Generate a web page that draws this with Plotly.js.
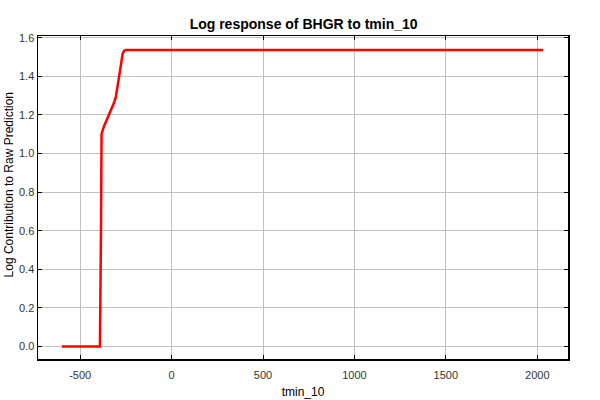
<!DOCTYPE html>
<html>
<head>
<meta charset="utf-8">
<script src="https://cdn.plot.ly/plotly-3.0.1.min.js"></script>
<style>html,body{margin:0;padding:0;background:#fff;}#chart{width:600px;height:400px;}</style>
</head>
<body>
<div id="chart"></div>
<script>
const tmin10 = [-600, -500, -392, -386, -383, -370, -356, -342, -328, -316, -305, -298, -292, -283, -275, -268, -260, -250, 0, 500, 1000, 1500, 2031];
const logContribution = [0, 0, 0, 0.6, 1.10, 1.14, 1.171, 1.20, 1.231, 1.26, 1.292, 1.33, 1.361, 1.413, 1.47, 1.516, 1.532, 1.537, 1.537, 1.537, 1.537, 1.537, 1.537];
const xTicks = [-500, 0, 500, 1000, 1500, 2000];
const yTicks = [0, 0.2, 0.4, 0.6, 0.8, 1.0, 1.2, 1.4, 1.6];
const yTickText = ['0.0', '0.2', '0.4', '0.6', '0.8', '1.0', '1.2', '1.4', '1.6'];

const trace = {
  x: tmin10, y: logContribution, type: 'scatter', mode: 'lines',
  line: {color: '#ff0000', width: 2.5}, hoverinfo: 'skip'
};
const fam = 'Liberation Sans, Arial, sans-serif';
const font = {family: fam, size: 11, color: '#333333'};
const layout = {
  width: 600, height: 400,
  margin: {l: 38, r: 32, t: 36, b: 41},
  paper_bgcolor: '#ffffff', plot_bgcolor: '#ffffff',
  showlegend: false,
  title: {text: 'Log response of BHGR to tmin_10', font: {family: fam, size: 14, color: '#000000', weight: 'bold'}, x: 0.506, xanchor: 'center', y: 0.94, yanchor: 'middle'},
  xaxis: {
    range: [-730.5, 2168], tickvals: xTicks, ticktext: xTicks.map(String),
    showgrid: true, gridcolor: '#c0c0c0', gridwidth: 1, zeroline: false,
    showline: true, linecolor: '#000000', linewidth: 1.5, mirror: 'ticks',
    ticks: 'inside', ticklen: 4, tickcolor: '#000000', tickfont: font,
    ticklabelstandoff: 5,
    title: {text: 'tmin_10', font: {family: fam, size: 12, color: '#000000'}, standoff: 8}
  },
  yaxis: {
    range: [-0.065, 1.609], tickvals: yTicks, ticktext: yTickText,
    showgrid: true, gridcolor: '#c0c0c0', gridwidth: 1, zeroline: false,
    showline: true, linecolor: '#000000', linewidth: 1.5, mirror: 'ticks',
    ticks: 'inside', ticklen: 4, tickcolor: '#000000', tickfont: font
  },
  annotations: [{
    text: 'Log Contribution to Raw Prediction', textangle: -90,
    xref: 'paper', yref: 'paper', x: -0.055, y: 0.54, xanchor: 'center', yanchor: 'middle',
    showarrow: false, font: {family: fam, size: 12, color: '#000000'}
  }]
};
Plotly.newPlot('chart', [trace], layout, {staticPlot: true, displayModeBar: false});
</script>
</body>
</html>
